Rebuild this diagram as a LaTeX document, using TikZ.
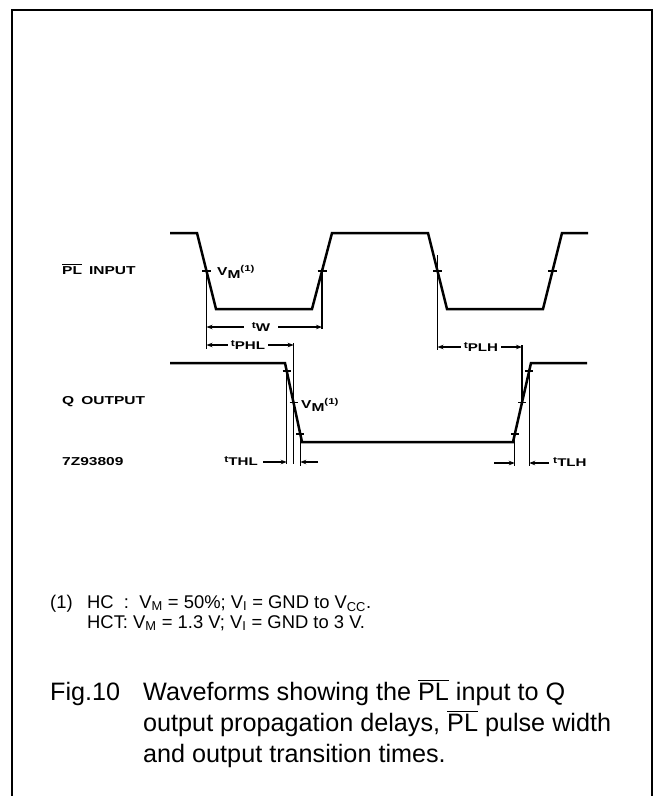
\documentclass[tikz,border=0pt]{standalone}
\usepackage{fontspec}
\setmainfont{Liberation Sans}
\newfontfamily\lblfont[FakeStretch=1.35]{Liberation Sans}
\usetikzlibrary{arrows.meta}
\newcommand\ovl[1]{\leavevmode\vbox{\hrule height1.2pt\kern1.6pt\hbox{#1}}}
\newcommand\tsub[1]{{\fontsize{9}{10}\selectfont t}\raisebox{-2.5pt}{#1}}
\newcommand\vmone{V\raisebox{-3pt}{M}\raisebox{4pt}{\fontsize{8.5}{9}\selectfont (1)}}
\begin{document}
\begin{tikzpicture}[x=1pt,y=-1pt,
  wave/.style={line width=2.5pt, line join=miter},
  refl/.style={line width=1.1pt},
  tickl/.style={line width=1.1pt},
  dim/.style={line width=1.1pt,-{Stealth[length=6pt,width=4.5pt]}},
  lbl/.style={font=\lblfont\bfseries\fontsize{11.5}{13}\selectfont, inner sep=0pt},
  tlbl/.style={font=\lblfont\bfseries\fontsize{11.2}{13}\selectfont, inner ysep=1pt, inner xsep=3pt},
  captxt/.style={font=\fontsize{25.2}{28}\selectfont, inner sep=0pt},
  fntxt/.style={font=\fontsize{18.4}{20}\selectfont, inner sep=0pt}
]
\useasboundingbox (0,0) rectangle (660,796);
\draw[line width=1.8pt] (12,800) -- (12,10) -- (652,10) -- (652,800);

% PL input waveform
\draw[wave] (170,233) -- (197,233) -- (216,309) -- (312,309) -- (332,233)
  -- (428,233) -- (447,309) -- (543,309) -- (562,233) -- (588,233);
% Q output waveform
\draw[wave] (170,363) -- (285,363) -- (302,442) -- (513,442) -- (531,363) -- (587,363);

% midpoint ticks on PL
\coordinate (p1) at (206.5,271);
\coordinate (p2) at (322,271);
\coordinate (p3) at (437.5,271);
\coordinate (p4) at (552.5,271);
\foreach \p in {p1,p2,p3,p4} \draw[tickl] ([xshift=-4.5pt]\p) -- ([xshift=4.5pt]\p);

% ticks on Q edges
\coordinate (qf1) at (286.7,371);
\coordinate (qf2) at (293.6,402.5);
\coordinate (qf3) at (300.3,434);
\coordinate (qr1) at (514.8,434);
\coordinate (qr2) at (522,402.5);
\coordinate (qr3) at (529.2,371);
\foreach \p in {qf1,qf2,qf3,qr1,qr2,qr3} \draw[tickl] ([xshift=-4pt]\p) -- ([xshift=4pt]\p);

% reference lines
\coordinate (l1b) at (206.5,349);
\coordinate (l2b) at (322,329);
\coordinate (l3t) at (293.6,343);
\coordinate (l3b) at (293.6,464);
\coordinate (l4b) at (286.7,464);
\coordinate (l5b) at (300.3,466);
\coordinate (l6t) at (437.5,255);
\coordinate (l6b) at (437.5,350);
\coordinate (l7t) at (522,345);
\coordinate (l8b) at (514.8,466);
\coordinate (l9b) at (529.2,466);
\draw[refl] (p1) -- (l1b);
\draw[refl] (p2) -- (l2b);
\draw[refl] (l3t) -- (l3b);
\draw[refl] (qf1) -- (l4b);
\draw[refl] (qf3) -- (l5b);
\draw[refl] (l6t) -- (l6b);
\draw[refl] (l7t) -- (qr2);
\draw[refl] (qr1) -- (l8b);
\draw[refl] (qr3) -- (l9b);

% dimension labels and arrows
\node[tlbl, inner xsep=8pt] (tw) at (261,327) {\tsub{W}};
\draw[dim] (tw.west) -- (206.5,327);
\draw[dim] (tw.east) -- (322,327);

\node[tlbl] (tphl) at (248,345) {\tsub{PHL}};
\draw[dim] (tphl.west) -- (206.5,345);
\draw[dim] (tphl.east) -- (293.6,345);

\node[tlbl] (tplh) at (481,347) {\tsub{PLH}};
\draw[dim] (tplh.west) -- (437.5,347);
\draw[dim] (tplh.east) -- (522,347);

\node[tlbl, anchor=east] (tthl) at (261,461) {\tsub{THL}};
\coordinate (a1) at (263,462);
\coordinate (a2) at (318,462);
\draw[dim] (a1) -- (286.7,462);
\draw[dim] (a2) -- (300.3,462);

\node[tlbl, anchor=west] (ttlh) at (550,462) {\tsub{TLH}};
\coordinate (a3) at (494,463);
\coordinate (a4) at (549,463);
\draw[dim] (a3) -- (514.8,463);
\draw[dim] (a4) -- (529.2,463);

% VM labels
\node[lbl, anchor=west] (vm1) at (217,272) {\vmone};
\node[lbl, anchor=west] (vm2) at (301,405) {\vmone};

% left labels
\node[lbl, anchor=west] (plin) at (62,269) {\ovl{PL}\hspace{7pt}INPUT};
\node[lbl, anchor=west] (qout) at (62,402) {Q\hspace{7pt}OUTPUT};
\node[lbl, anchor=west] (code) at (62,462) {7Z93809};

% footnote
\node[fntxt, anchor=base west] (fn0) at (50,608) {(1)};
\node[fntxt, anchor=base west] (fn1) at (87,608) {HC\ \ :\ \ V\textsubscript{M} = 50\%; V\textsubscript{I} = GND to V\textsubscript{CC}.};
\node[fntxt, anchor=base west] (fn2) at (87,628) {HCT: V\textsubscript{M} = 1.3 V; V\textsubscript{I} = GND to 3 V.};

% caption
\node[captxt, anchor=base west] (fig) at (50,700) {Fig.10};
\node[captxt, anchor=base west] (c1) at (143,700) {Waveforms showing the \ovl{PL} input to Q};
\node[captxt, anchor=base west] (c2) at (143,731) {output propagation delays, \ovl{PL} pulse width};
\node[captxt, anchor=base west] (c3) at (143,762) {and output transition times.};
\end{tikzpicture}
\end{document}
